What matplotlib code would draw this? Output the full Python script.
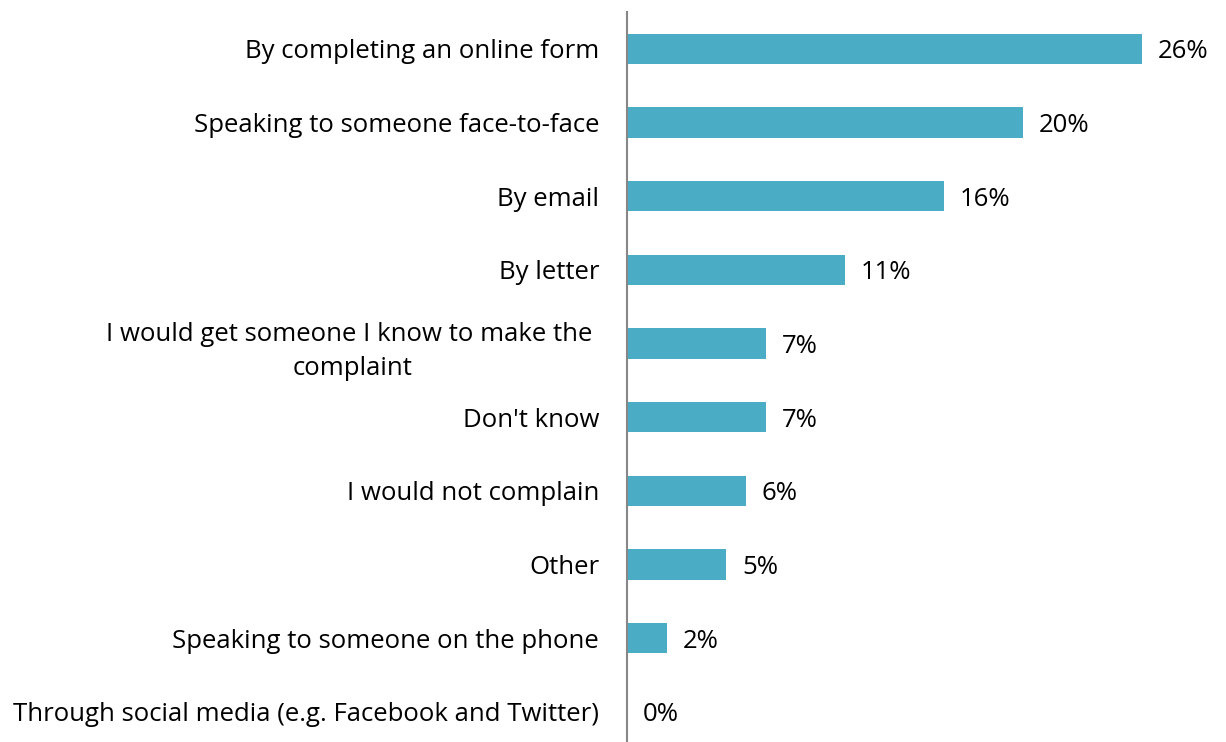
import matplotlib
matplotlib.use("Agg")
import matplotlib.pyplot as plt

categories = [
    "By completing an online form",
    "Speaking to someone face-to-face",
    "By email",
    "By letter",
    "I would get someone I know to make the \ncomplaint",
    "Don't know",
    "I would not complain",
    "Other",
    "Speaking to someone on the phone",
    "Through social media (e.g. Facebook and Twitter)",
]
values = [26, 20, 16, 11, 7, 7, 6, 5, 2, 0]
value_labels = ["26%", "20%", "16%", "11%", "7%", "7%", "6%", "5%", "2%", "0%"]

plt.rcParams["font.family"] = ["Open Sans", "DejaVu Sans"]
FS = 18.5

W, H = 1226, 742
fig = plt.figure(figsize=(W / 100, H / 100), dpi=100)
left_px, top_px, step_px = 627, 12, 73.67
height_px = step_px * len(categories)
ax = fig.add_axes([left_px / W, (H - top_px - height_px) / H,
                   594 / W, height_px / H])

pos = list(range(len(categories)))
ax.barh(pos, values, height=0.41, color="#4BACC6")
ax.set_ylim(len(categories) - 0.5, -0.5)
ax.set_xlim(0, 30)

for p, v, lab in zip(pos, values, value_labels):
    ax.annotate(lab, xy=(v, p), xytext=(11.5, 0), textcoords="offset points",
                ha="left", va="center_baseline", fontsize=FS, color="black")

ax.set_yticks(pos)
ax.set_yticklabels(categories, fontsize=FS, color="black",
                   multialignment="center", linespacing=1.5)
ax.tick_params(axis="y", length=0, pad=20)
ax.set_xticks([])
for s in ["top", "right", "bottom"]:
    ax.spines[s].set_visible(False)
ax.spines["left"].set_color("#878787")
ax.spines["left"].set_linewidth(1.5)

fig.savefig("out.png", dpi=100, facecolor="white")
